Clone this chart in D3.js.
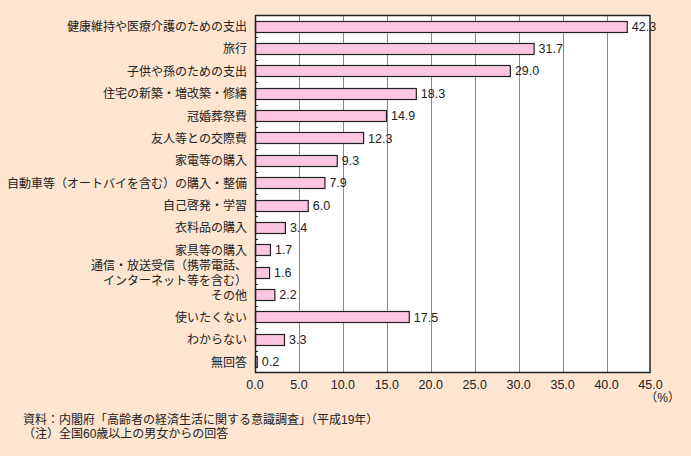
<!DOCTYPE html>
<html><head><meta charset="utf-8">
<script src="https://cdn.jsdelivr.net/npm/d3@7"></script>
<style>
html,body{margin:0;padding:0;background:#fde5cf;}
svg{display:block;font-family:"Liberation Sans","Noto Sans CJK JP",sans-serif;}
</style></head><body>
<svg id="c" width="691" height="456"></svg>
<script>
const categories = [
  ["健康維持や医療介護のための支出"],
  ["旅行"],
  ["子供や孫のための支出"],
  ["住宅の新築・増改築・修繕"],
  ["冠婚葬祭費"],
  ["友人等との交際費"],
  ["家電等の購入"],
  ["自動車等（オートバイを含む）の購入・整備"],
  ["自己啓発・学習"],
  ["衣料品の購入"],
  ["家具等の購入"],
  ["通信・放送受信（携帯電話、", "インターネット等を含む）"],
  ["その他"],
  ["使いたくない"],
  ["わからない"],
  ["無回答"]
];
const values = [42.3, 31.7, 29.0, 18.3, 14.9, 12.3, 9.3, 7.9, 6.0, 3.4, 1.7, 1.6, 2.2, 17.5, 3.3, 0.2];
const xTicks = [0, 5, 10, 15, 20, 25, 30, 35, 40, 45];
const unitLabel = "（%）";
const notes = ["資料：内閣府「高齢者の経済生活に関する意識調査」（平成19年）", "（注）全国60歳以上の男女からの回答"];

const svg = d3.select("#c");
const L = 255, R = 650.5, T = 15, B = 373;
const x = d3.scaleLinear().domain([0, 45]).range([L, R]);
const idx = d3.range(values.length);
const y = d3.scaleBand().domain(idx).range([T, B]).paddingInner(0.5).paddingOuter(0.25);

svg.append("rect").attr("x", L).attr("y", T).attr("width", R - L).attr("height", B - T).attr("fill", "#fff");

svg.append("g").selectAll("line").data(xTicks.slice(1, -1)).join("line")
  .attr("x1", d => Math.round(x(d)) + 0.5).attr("x2", d => Math.round(x(d)) + 0.5)
  .attr("y1", T).attr("y2", B).attr("stroke", "#888").attr("stroke-width", 1);

// inward ticks at band boundaries
const step = (B - T) / values.length;
svg.append("g").selectAll("line").data(d3.range(1, values.length)).join("line")
  .attr("x1", L).attr("x2", L + 3)
  .attr("y1", d => Math.round(T + d * step) + 0.5).attr("y2", d => Math.round(T + d * step) + 0.5)
  .attr("stroke", "#222");

svg.append("g").selectAll("rect").data(idx).join("rect")
  .attr("x", L + 0.5).attr("y", i => Math.round(y(i)) + 0.5)
  .attr("width", i => Math.max(0, x(values[i]) - L))
  .attr("height", Math.round(y.bandwidth()))
  .attr("fill", "#fcc6e1").attr("stroke", "#222").attr("stroke-width", 1.2);

svg.append("rect").attr("x", L + 0.5).attr("y", T + 0.5).attr("width", R - L - 1).attr("height", B - T - 1)
  .attr("fill", "none").attr("stroke", "#222").attr("stroke-width", 1.5);

svg.append("g").selectAll("text").data(idx).join("text")
  .attr("x", i => x(values[i]) + 5).attr("y", i => y(i) + y.bandwidth() / 2)
  .attr("dy", "0.36em").attr("font-size", 12.5).attr("fill", "#222")
  .text(i => values[i].toFixed(1));

const lab = svg.append("g").selectAll("text").data(idx).join("text")
  .attr("x", 247).attr("text-anchor", "end").attr("font-size", 12).attr("fill", "#222");
lab.each(function(i) {
  const lines = categories[i];
  const cy = y(i) + y.bandwidth() / 2;
  const t = d3.select(this);
  lines.forEach((s, k) => {
    t.append("tspan").attr("x", 247)
      .attr("y", cy + (k - (lines.length - 1) / 2) * 15 + 0.5).attr("dy", "0.36em").text(s);
  });
});

svg.append("g").selectAll("text").data(xTicks).join("text")
  .attr("x", d => x(d)).attr("y", 384).attr("dy", "0.36em").attr("text-anchor", "middle")
  .attr("font-size", 12.5).attr("fill", "#222").text(d => d.toFixed(1));

svg.append("text").attr("x", 680).attr("y", 398).attr("dy", "0.36em").attr("text-anchor", "end")
  .attr("font-size", 12).attr("fill", "#222").text(unitLabel);

svg.append("g").selectAll("text").data(notes).join("text")
  .attr("x", 23).attr("y", (d, k) => 420 + k * 13.5).attr("dy", "0.36em")
  .attr("font-size", 12).attr("fill", "#222").text(d => d);
</script></body></html>
